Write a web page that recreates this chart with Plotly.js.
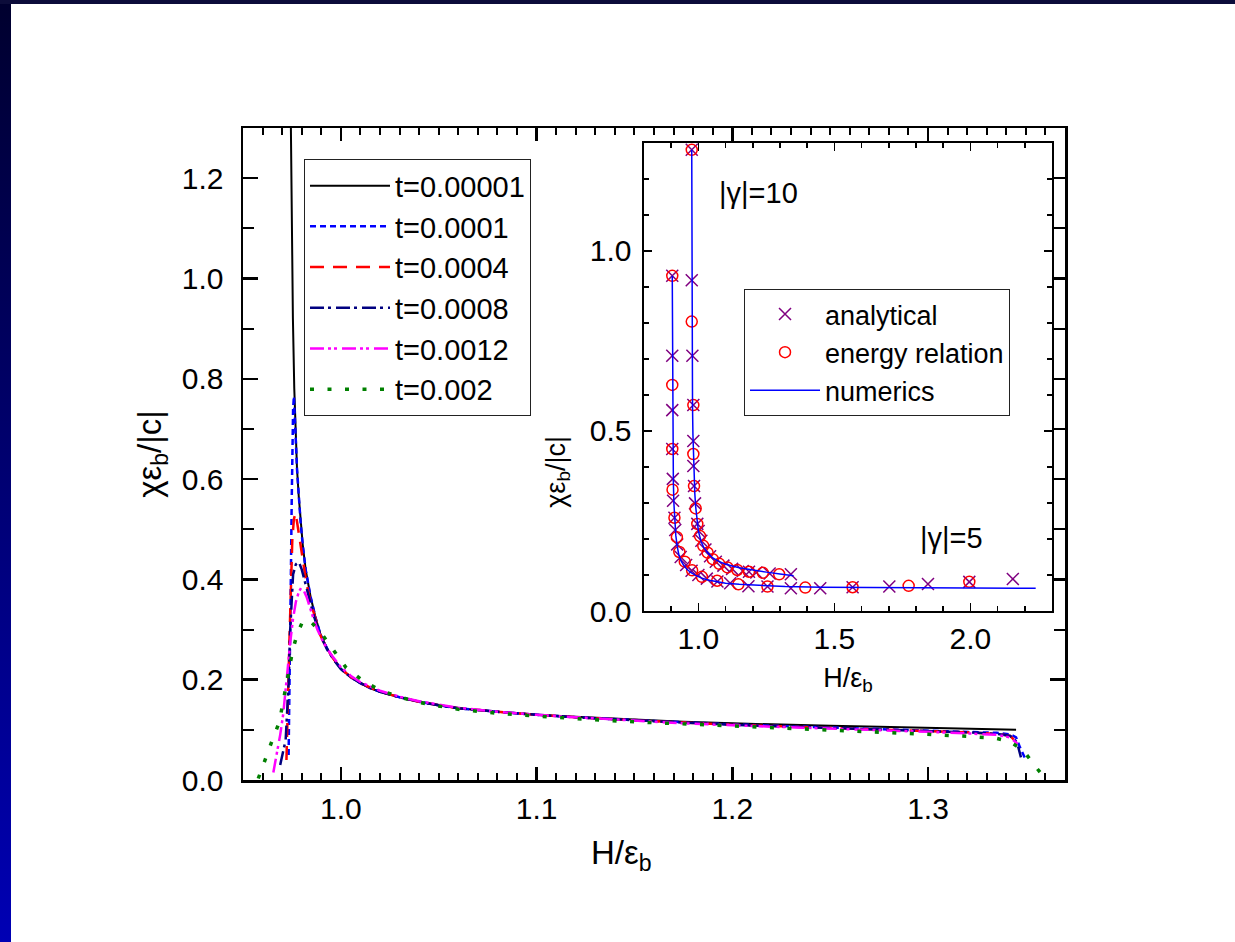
<!DOCTYPE html>
<html>
<head>
<meta charset="utf-8">
<script src="https://cdn.plot.ly/plotly-3.0.1.min.js"></script>
<style>
html,body{margin:0;padding:0;background:#fff;}
#wrap{position:relative;width:1235px;height:942px;overflow:hidden;background:#fff;}
#chart{position:absolute;left:0;top:0;width:1235px;height:942px;}
#bandL{position:absolute;left:0;top:0;width:11px;height:942px;background:linear-gradient(#00002e,#0000b4);z-index:5;}
#bandT{position:absolute;left:0;top:0;width:1235px;height:4px;background:#0c0c3a;z-index:5;}
</style>
</head>
<body>
<div id="wrap"><div id="chart"></div><div id="bandL"></div><div id="bandT"></div></div>
<script>
// ---------- main plot: chi*eps_b/|c| vs H/eps_b for several t ----------
var seriesNames = ['t=0.00001', 't=0.0001', 't=0.0004', 't=0.0008', 't=0.0012', 't=0.002'];

var h_t00001 = [0.9742, 0.9748, 0.9755, 0.9762, 0.9768, 0.9776, 0.9785, 0.9795, 0.9805, 0.9820, 0.9845, 0.9870, 0.9896, 0.9930, 0.9965, 1.000, 1.005, 1.010, 1.015, 1.020, 1.030, 1.040, 1.050, 1.060, 1.080, 1.100, 1.125, 1.150, 1.175, 1.200, 1.225, 1.250, 1.275, 1.300, 1.320, 1.345];
var chi_t00001 = [1.40, 1.10, 0.92, 0.78, 0.70, 0.62, 0.565, 0.51, 0.47, 0.42, 0.366, 0.325, 0.29, 0.262, 0.240, 0.222, 0.205, 0.193, 0.183, 0.176, 0.165, 0.156, 0.149, 0.143, 0.136, 0.130, 0.125, 0.120, 0.116, 0.113, 0.110, 0.108, 0.106, 0.104, 0.102, 0.100];

var h_t0001 = [0.9733, 0.9737, 0.9741, 0.9745, 0.9749, 0.9752, 0.9756, 0.9760, 0.9765, 0.9770, 0.9776, 0.9785, 0.9795, 0.9805, 0.9820, 0.9845, 0.9870, 0.9896, 0.9930, 0.9965, 1.000, 1.005, 1.010, 1.015, 1.020, 1.030, 1.040, 1.050, 1.060, 1.080, 1.100, 1.125, 1.150, 1.175, 1.200, 1.225, 1.250, 1.275, 1.300, 1.320, 1.335, 1.342, 1.345, 1.347, 1.350];
var chi_t0001 = [0.05, 0.15, 0.28, 0.42, 0.56, 0.66, 0.74, 0.765, 0.73, 0.675, 0.62, 0.565, 0.51, 0.47, 0.42, 0.366, 0.325, 0.29, 0.262, 0.240, 0.222, 0.205, 0.193, 0.183, 0.176, 0.165, 0.156, 0.149, 0.143, 0.136, 0.130, 0.124, 0.119, 0.115, 0.111, 0.108, 0.105, 0.102, 0.099, 0.096, 0.094, 0.091, 0.085, 0.065, 0.040];

var h_t0004 = [0.9722, 0.9727, 0.9731, 0.9736, 0.9741, 0.9746, 0.9752, 0.9760, 0.9768, 0.9776, 0.9786, 0.9797, 0.9810, 0.9825, 0.9845, 0.9870, 0.9896, 0.9930, 0.9965, 1.000, 1.005, 1.010, 1.020, 1.030, 1.040, 1.050, 1.060, 1.080, 1.100, 1.125, 1.150, 1.175, 1.200, 1.225, 1.250, 1.275, 1.300, 1.320, 1.335, 1.342, 1.3455];
var chi_t0004 = [0.04, 0.10, 0.18, 0.26, 0.34, 0.41, 0.48, 0.52, 0.532, 0.515, 0.49, 0.455, 0.42, 0.39, 0.355, 0.32, 0.288, 0.261, 0.240, 0.222, 0.206, 0.193, 0.176, 0.165, 0.156, 0.149, 0.143, 0.136, 0.130, 0.124, 0.119, 0.114, 0.110, 0.107, 0.104, 0.101, 0.098, 0.095, 0.092, 0.088, 0.074];

var h_t0008 = [0.9690, 0.9705, 0.9718, 0.9726, 0.9734, 0.9740, 0.9748, 0.9756, 0.9770, 0.9785, 0.9800, 0.9820, 0.9840, 0.9860, 0.9880, 0.9900, 0.9930, 0.9965, 1.000, 1.005, 1.010, 1.020, 1.030, 1.040, 1.050, 1.060, 1.080, 1.100, 1.125, 1.150, 1.175, 1.200, 1.225, 1.250, 1.275, 1.300, 1.320, 1.335, 1.342, 1.3455, 1.3475];
var chi_t0008 = [0.03, 0.06, 0.08, 0.14, 0.20, 0.29, 0.36, 0.41, 0.43, 0.435, 0.42, 0.39, 0.355, 0.33, 0.305, 0.285, 0.260, 0.239, 0.221, 0.205, 0.193, 0.176, 0.165, 0.156, 0.149, 0.143, 0.136, 0.130, 0.124, 0.119, 0.114, 0.110, 0.107, 0.104, 0.101, 0.098, 0.095, 0.092, 0.088, 0.075, 0.045];

var h_t0012 = [0.9655, 0.9672, 0.9690, 0.9705, 0.9717, 0.9728, 0.9740, 0.9755, 0.9770, 0.9785, 0.9797, 0.9810, 0.9825, 0.9840, 0.9860, 0.9880, 0.9910, 0.9950, 1.000, 1.005, 1.010, 1.020, 1.030, 1.040, 1.050, 1.060, 1.080, 1.100, 1.125, 1.150, 1.175, 1.200, 1.225, 1.250, 1.275, 1.300, 1.320, 1.335, 1.342, 1.3458];
var chi_t0012 = [0.015, 0.05, 0.09, 0.13, 0.173, 0.22, 0.27, 0.32, 0.355, 0.375, 0.383, 0.378, 0.365, 0.345, 0.322, 0.30, 0.275, 0.25, 0.225, 0.208, 0.195, 0.178, 0.166, 0.157, 0.150, 0.144, 0.136, 0.130, 0.124, 0.118, 0.113, 0.109, 0.106, 0.103, 0.100, 0.096, 0.093, 0.090, 0.085, 0.072];

var h_t002 = [0.9578, 0.9618, 0.9652, 0.9686, 0.9703, 0.9720, 0.9737, 0.9754, 0.9776, 0.9800, 0.9827, 0.9860, 0.9901, 0.9960, 1.0027, 1.0118, 1.0208, 1.0297, 1.0386, 1.0476, 1.060, 1.080, 1.100, 1.125, 1.150, 1.175, 1.200, 1.225, 1.250, 1.275, 1.300, 1.320, 1.335, 1.342, 1.3485, 1.3557, 1.3580];
var chi_t002 = [0.003, 0.048, 0.082, 0.116, 0.153, 0.186, 0.222, 0.259, 0.290, 0.312, 0.321, 0.310, 0.292, 0.259, 0.224, 0.196, 0.178, 0.166, 0.156, 0.149, 0.141, 0.133, 0.127, 0.121, 0.116, 0.112, 0.108, 0.104, 0.100, 0.096, 0.091, 0.087, 0.083, 0.076, 0.060, 0.023, 0.012];

// ---------- inset: |gamma| = 5 and |gamma| = 10 ----------
var insetNames = ['analytical', 'energy relation', 'numerics'];
var gammaLabels = ['|γ|=10', '|γ|=5'];

var numH_g5 = [0.9040, 0.9043, 0.9048, 0.9055, 0.9065, 0.9080, 0.9100, 0.9130, 0.9170, 0.9220, 0.9280, 0.9360, 0.9460, 0.9580, 0.9720, 0.9900, 1.0100, 1.0350, 1.0650, 1.1000, 1.1500, 1.2200, 1.3200, 1.4500, 1.6500, 1.9000, 2.1000, 2.2400];
var numChi_g5 = [0.931, 0.80, 0.66, 0.54, 0.44, 0.36, 0.30, 0.25, 0.21, 0.180, 0.157, 0.140, 0.127, 0.116, 0.107, 0.099, 0.092, 0.086, 0.081, 0.077, 0.074, 0.071, 0.068, 0.066, 0.065, 0.064, 0.063, 0.063];

var numH_g10 = [0.9756, 0.9758, 0.9762, 0.9768, 0.9776, 0.9785, 0.9800, 0.9820, 0.9845, 0.9870, 0.9900, 0.9950, 1.000, 1.010, 1.020, 1.035, 1.050, 1.075, 1.100, 1.150, 1.200, 1.250, 1.300, 1.350];
var numChi_g10 = [1.281, 1.05, 0.86, 0.70, 0.62, 0.565, 0.49, 0.42, 0.366, 0.325, 0.29, 0.25, 0.222, 0.193, 0.176, 0.161, 0.149, 0.138, 0.130, 0.120, 0.113, 0.108, 0.103, 0.098];

var anaH_g5 = [0.904, 0.904, 0.904, 0.904, 0.906, 0.907, 0.912, 0.915, 0.922, 0.935, 0.955, 0.975, 1.000, 1.031, 1.070, 1.117, 1.184, 1.254, 1.340, 1.448, 1.567, 1.702, 1.844, 1.996, 2.156];
var anaChi_g5 = [0.931, 0.709, 0.558, 0.450, 0.367, 0.306, 0.259, 0.225, 0.185, 0.150, 0.128, 0.112, 0.100, 0.090, 0.082, 0.077, 0.069, 0.068, 0.063, 0.063, 0.066, 0.068, 0.075, 0.081, 0.089];

var anaH_g10 = [0.9756, 0.9756, 0.978, 0.9815, 0.9815, 0.9815, 0.984, 0.9877, 0.996, 1.001, 1.011, 1.026, 1.043, 1.064, 1.092, 1.124, 1.163, 1.186, 1.213, 1.262, 1.340];
var anaChi_g10 = [1.281, 0.919, 0.709, 0.572, 0.472, 0.403, 0.347, 0.299, 0.242, 0.222, 0.195, 0.171, 0.152, 0.137, 0.126, 0.117, 0.111, 0.109, 0.107, 0.104, 0.102];

var enH_g5 = [0.904, 0.904, 0.904, 0.905, 0.912, 0.921, 0.930, 0.950, 0.977, 1.013, 1.069, 1.147, 1.254, 1.393, 1.567, 1.773, 1.996];
var enChi_g5 = [0.931, 0.628, 0.450, 0.337, 0.259, 0.205, 0.164, 0.137, 0.113, 0.095, 0.084, 0.074, 0.068, 0.065, 0.066, 0.070, 0.081];

var enH_g10 = [0.9756, 0.9756, 0.9815, 0.9815, 0.984, 0.990, 0.996, 1.006, 1.018, 1.034, 1.053, 1.077, 1.107, 1.143, 1.186, 1.237, 1.297];
var enChi_g10 = [1.281, 0.804, 0.572, 0.436, 0.347, 0.285, 0.242, 0.208, 0.181, 0.162, 0.144, 0.131, 0.121, 0.114, 0.109, 0.106, 0.102];

// ---------- styles ----------
var mainX = [h_t00001, h_t0001, h_t0004, h_t0008, h_t0012, h_t002];
var mainY = [chi_t00001, chi_t0001, chi_t0004, chi_t0008, chi_t0012, chi_t002];
var colors = ['#000000', '#0000ff', '#ff0000', '#000080', '#ff00ff', '#008000'];
var dashes = ['solid', '6px,4px', '14px,9px', '14px,4px,3px,5px', '14px,4px,3px,3px,3px,5px', '4px,13.5px'];
var widths = [2, 2.5, 2.5, 2.5, 2.5, 3.5];

var FONT = 'Arial, "Liberation Sans", sans-serif';
var traces = [];
for (var i = 0; i < seriesNames.length; i++) {
  traces.push({
    type: 'scatter', mode: 'lines', name: seriesNames[i],
    x: mainX[i], y: mainY[i], xaxis: 'x', yaxis: 'y', legend: 'legend',
    line: {color: colors[i], width: widths[i], dash: dashes[i]},
    hoverinfo: 'skip'
  });
}
var xMark = {symbol: 'x-thin-open', size: 12, color: '#800080', line: {color: '#800080', width: 1.5}};
var oMark = {symbol: 'circle-open', size: 11, color: '#ff0000', line: {color: '#ff0000', width: 1.5}};
traces.push({type: 'scatter', mode: 'markers', name: insetNames[0], legendgroup: 'a', x: anaH_g5, y: anaChi_g5, xaxis: 'x2', yaxis: 'y2', legend: 'legend2', marker: xMark, cliponaxis: false});
traces.push({type: 'scatter', mode: 'markers', name: insetNames[0], legendgroup: 'a', showlegend: false, x: anaH_g10, y: anaChi_g10, xaxis: 'x2', yaxis: 'y2', legend: 'legend2', marker: xMark, cliponaxis: false});
traces.push({type: 'scatter', mode: 'markers', name: insetNames[1], legendgroup: 'e', x: enH_g5, y: enChi_g5, xaxis: 'x2', yaxis: 'y2', legend: 'legend2', marker: oMark, cliponaxis: false});
traces.push({type: 'scatter', mode: 'markers', name: insetNames[1], legendgroup: 'e', showlegend: false, x: enH_g10, y: enChi_g10, xaxis: 'x2', yaxis: 'y2', legend: 'legend2', marker: oMark, cliponaxis: false});
traces.push({type: 'scatter', mode: 'lines', name: insetNames[2], legendgroup: 'n', x: numH_g5, y: numChi_g5, xaxis: 'x2', yaxis: 'y2', legend: 'legend2', line: {color: '#0000ff', width: 1.5}});
traces.push({type: 'scatter', mode: 'lines', name: insetNames[2], legendgroup: 'n', showlegend: false, x: numH_g10, y: numChi_g10, xaxis: 'x2', yaxis: 'y2', legend: 'legend2', line: {color: '#0000ff', width: 1.5}});

function axisStyle(o) {
  var base = {showgrid: false, zeroline: false, showline: true, linecolor: '#000', mirror: 'ticks',
              ticks: 'inside', tickcolor: '#000', automargin: false, tickfont: {family: FONT, size: 30, color: '#000'},
              tickformat: '.1f'};
  for (var k in o) base[k] = o[k];
  return base;
}

var layout = {
  width: 1235, height: 942,
  margin: {l: 243, r: 170, t: 128, b: 162, pad: 0},
  paper_bgcolor: '#ffffff', plot_bgcolor: '#ffffff',
  font: {family: FONT, size: 28, color: '#000'},
  showlegend: true,
  xaxis: axisStyle({domain: [0, 1], anchor: 'y', range: [0.95, 1.37], tick0: 1.0, dtick: 0.1,
    linewidth: 2.5, ticklen: 13, tickwidth: 2.5, ticklabelstandoff: 0,
    minor: {dtick: 0.01, ticks: 'inside', ticklen: 7, tickwidth: 2, tickcolor: '#000', showgrid: false}}),
  yaxis: axisStyle({domain: [0, 1], anchor: 'x', range: [0, 1.3], tick0: 0, dtick: 0.2,
    linewidth: 2.5, ticklen: 15, tickwidth: 2.5, ticklabelstandoff: 11,
    minor: {dtick: 0.1, ticks: 'inside', ticklen: 11, tickwidth: 2, tickcolor: '#000', showgrid: false},
    title: {text: 'χε<sub>b</sub>/|c|', font: {family: FONT, size: 33}, standoff: 10}}),
  xaxis2: axisStyle({domain: [0.4878, 0.9842], anchor: 'y2', range: [0.8, 2.3], tick0: 0, dtick: 0.5,
    linewidth: 1.5, ticklen: 8, tickwidth: 1.5, ticklabelstandoff: 0,
    minor: {dtick: 0.1, ticks: 'inside', ticklen: 5, tickwidth: 1.5, tickcolor: '#000', showgrid: false},
    title: {text: 'H/ε<sub>b</sub>', font: {family: FONT, size: 27}, standoff: 14}}),
  yaxis2: axisStyle({domain: [0.2592, 0.977], anchor: 'x2', range: [0, 1.3], tick0: 0, dtick: 0.5,
    linewidth: 1.5, ticklen: 8, tickwidth: 1.5, ticklabelstandoff: 5,
    minor: {dtick: 0.1, ticks: 'inside', ticklen: 5, tickwidth: 1.5, tickcolor: '#000', showgrid: false}}),
  legend: {x: 0.0742, y: 0.952, xanchor: 'left', yanchor: 'top', bgcolor: '#fff', bordercolor: '#222', borderwidth: 1,
    font: {family: FONT, size: 29, color: '#000'}, itemwidth: 80, tracegroupgap: 0},
  legend2: {x: 0.6095, y: 0.753, xanchor: 'left', yanchor: 'top', bgcolor: '#fff', bordercolor: '#222', borderwidth: 1,
    font: {family: FONT, size: 27, color: '#000'}, itemwidth: 70, tracegroupgap: 0},
  annotations: [
    {xref: 'paper', yref: 'paper', x: 0.461, y: -0.115, xanchor: 'center', yanchor: 'middle', showarrow: false,
     text: 'H/ε<sub>b</sub>', font: {family: FONT, size: 33, color: '#000'}},
    {xref: 'paper', yref: 'paper', x: 0.383, y: 0.4724, xanchor: 'center', yanchor: 'middle', showarrow: false, textangle: -90,
     text: 'χε<sub>b</sub>/|c|', font: {family: FONT, size: 27, color: '#000'}},
    {xref: 'x2', yref: 'y2', x: 1.068, y: 1.161, xanchor: 'left', yanchor: 'middle', showarrow: false,
     text: gammaLabels[0], font: {family: FONT, size: 29, color: '#000'}},
    {xref: 'x2', yref: 'y2', x: 1.809, y: 0.203, xanchor: 'left', yanchor: 'middle', showarrow: false,
     text: gammaLabels[1], font: {family: FONT, size: 29, color: '#000'}}
  ]
};

Plotly.newPlot('chart', traces, layout, {displayModeBar: false, staticPlot: true});
</script>
</body>
</html>
